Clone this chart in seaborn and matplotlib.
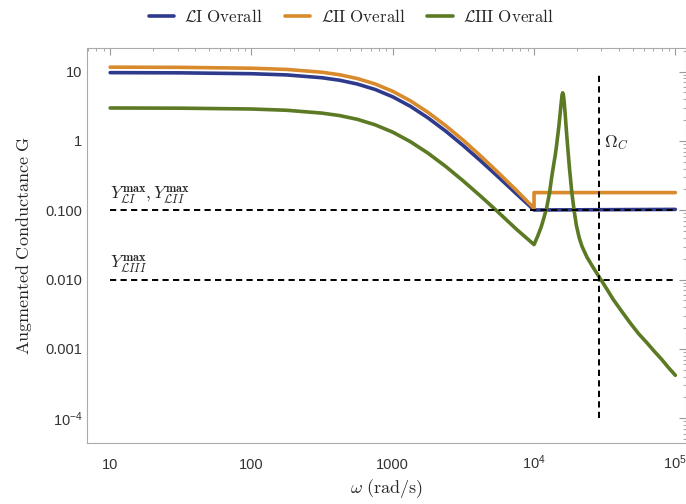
import matplotlib
matplotlib.use("Agg")
import matplotlib.pyplot as plt
import matplotlib.ticker as mticker
import seaborn as sns
import pandas as pd

# ---------------- data ----------------
omega_roll = [10, 31.6, 100, 178, 316, 422, 562, 750, 1000, 1334, 1778,
              2371, 3162, 4217, 5623, 7499, 10000]

omega_L1 = omega_roll + [100000]
G_L1 = [9.67, 9.60, 9.33, 8.96, 8.16, 7.50, 6.62, 5.53, 4.33, 3.16, 2.15,
        1.386, 0.854, 0.511, 0.299, 0.173, 0.101, 0.103]

omega_L2 = omega_roll + [10000, 100000]
G_L2 = [11.6, 11.52, 11.2, 10.75, 9.79, 9.0, 7.94, 6.64, 5.2, 3.79, 2.58,
        1.66, 1.02, 0.60, 0.344, 0.194, 0.107, 0.18, 0.18]

omega_L3 = omega_roll + [10593, 11220, 11749, 12303, 12882, 13335, 13804,
                         14125, 14454, 14791, 15066, 15311, 15488, 15668,
                         15776, 15959, 16144, 16331, 16596, 16904, 17219,
                         17783, 18535, 19275, 19953, 20893, 21878, 23714,
                         26303, 28840, 32359, 36308, 41687, 47863, 54954,
                         63096, 70795, 79433, 89125, 100000]
G_L3 = [2.99, 2.97, 2.89, 2.77, 2.52, 2.32, 2.05, 1.71, 1.34, 0.976, 0.666,
        0.429, 0.264, 0.158, 0.0925, 0.0534, 0.032,
        0.042, 0.057, 0.078, 0.11, 0.18, 0.30, 0.47, 0.62, 0.88, 1.3, 1.8,
        2.5, 3.2, 4.0, 4.6, 4.95, 4.6, 3.7, 2.5, 1.5, 0.93, 0.42, 0.176,
        0.095, 0.060, 0.040, 0.030, 0.021, 0.0148, 0.011, 0.0076, 0.0052,
        0.0035, 0.00238, 0.00166, 0.00122, 0.00093, 0.00072, 0.000543,
        0.000417]

series_names = [r"$\mathcal{L}\mathrm{I\ Overall}$",
                r"$\mathcal{L}\mathrm{II\ Overall}$",
                r"$\mathcal{L}\mathrm{III\ Overall}$"]
series_colors = ["#2e3a8c", "#d98a2c", "#5b7a23"]

Y_max_L12 = 0.1
Y_max_L3 = 0.01
Omega_C = 28840

x_ticks = [10, 100, 1000, 10000, 100000]
x_tick_labels = ["10", "100", "1000", r"$\mathregular{10^4}$", r"$\mathregular{10^5}$"]
y_ticks = [10, 1, 0.1, 0.01, 0.001, 0.0001]
y_tick_labels = ["10", "1", "0.100", "0.010", "0.001", r"$\mathregular{10^{-4}}$"]

# ---------------- build table ----------------
frames = []
for name, om, g in zip(series_names, [omega_L1, omega_L2, omega_L3],
                       [G_L1, G_L2, G_L3]):
    frames.append(pd.DataFrame({"omega": om, "G": g, "series": name}))
df = pd.concat(frames, ignore_index=True)

# ---------------- style ----------------
sns.set_theme(style="white")
plt.rcParams["mathtext.fontset"] = "cm"
plt.rcParams["mathtext.rm"] = "Liberation Sans"
plt.rcParams["mathtext.it"] = "Liberation Sans:italic"
plt.rcParams["mathtext.bf"] = "Liberation Sans:bold"
plt.rcParams["font.family"] = ["Liberation Sans", "DejaVu Sans"]

fig = plt.figure(figsize=(6.86, 5.04), dpi=100)
ax = fig.add_axes([0.127, 0.121, 0.873, 0.784])

sns.lineplot(data=df, x="omega", y="G", hue="series", palette=series_colors,
             hue_order=series_names, estimator=None, sort=False,
             linewidth=2.6, ax=ax, legend=True)

ax.set_xscale("log")
ax.set_yscale("log")

# reference lines
dash = (0, (3.2, 2.2))
ax.hlines([Y_max_L12, Y_max_L3], 10, 100000, colors="black", linewidth=1.4,
          linestyles=[dash, dash], zorder=5)
ax.vlines(Omega_C, 1e-4, 9, colors="black", linewidth=1.4,
          linestyles=[dash], zorder=5)

ax.text(10, 0.117, r"$Y^{\mathbf{max}}_{\mathcal{L}I}, Y^{\mathbf{max}}_{\mathcal{L}II}$",
        fontsize=12.5, ha="left", va="bottom")
ax.text(10, 0.0117, r"$Y^{\mathbf{max}}_{\mathcal{L}III}$",
        fontsize=12.5, ha="left", va="bottom")
ax.text(31500, 0.95, r"$\Omega_C$", fontsize=12.5, ha="left", va="center")

# ticks
ax.set_xticks(x_ticks)
ax.set_xticklabels(x_tick_labels, math_fontfamily="custom", va="baseline")
ax.set_yticks(y_ticks)
ax.set_yticklabels(y_tick_labels, math_fontfamily="custom")
ax.xaxis.set_minor_locator(mticker.LogLocator(base=10, subs=range(2, 10), numticks=20))
ax.yaxis.set_minor_locator(mticker.LogLocator(base=10, subs=range(2, 10), numticks=20))
ax.xaxis.set_minor_formatter(mticker.NullFormatter())
ax.yaxis.set_minor_formatter(mticker.NullFormatter())
ax.set_xlim(6.87, 1.19e5)
ax.set_ylim(4.4e-5, 22)
ax.tick_params(which="both", direction="in", top=True, right=True,
               colors="#999999", labelcolor="#333333", labelsize=10.5)
ax.tick_params(which="major", length=5, width=0.8)
ax.tick_params(which="minor", length=2.5, width=0.6)
ax.tick_params(axis="x", which="major", pad=18.5)
for s in ax.spines.values():
    s.set_color("#aaaaaa")
    s.set_linewidth(0.8)

ax.set_xlabel(r"$\omega\ \mathrm{(rad/s)}$", fontsize=13)
ax.xaxis.set_label_coords(0.5, -0.087)
ax.set_ylabel(r"$\mathrm{Augmented\ Conductance\ G}$", fontsize=13, labelpad=8)

handles, labels = ax.get_legend_handles_labels()
ax.get_legend().remove()
fig.legend(handles, labels, loc="center", bbox_to_anchor=(0.512, 0.968),
           ncol=3, frameon=False, fontsize=12.2, handlelength=1.5,
           columnspacing=1.3, handletextpad=0.6)

fig.savefig("out.png", dpi=100)
